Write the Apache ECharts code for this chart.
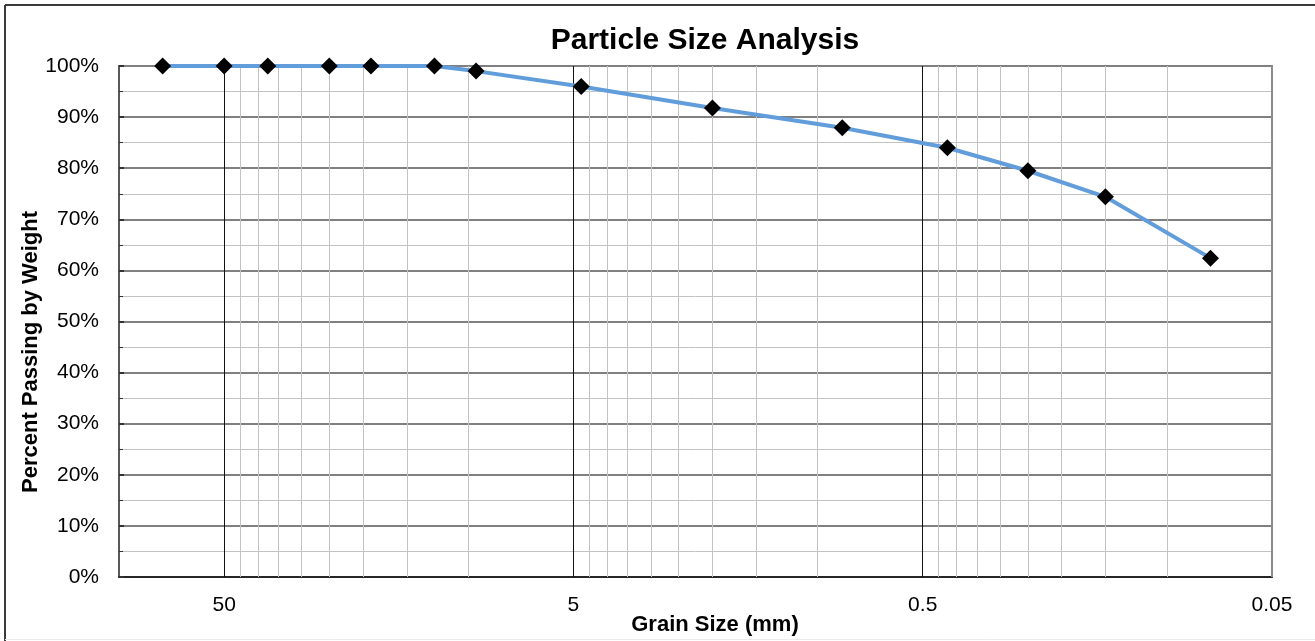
<!DOCTYPE html>
<html>
<head>
<meta charset="utf-8">
<script src="https://cdn.jsdelivr.net/npm/echarts@6/dist/echarts.min.js"></script>
<style>
  html, body { margin: 0; padding: 0; background: #ffffff; }
  #chart { width: 1315px; height: 641px; }
</style>
</head>
<body>
<div id="chart"></div>
<script>
// Sieve openings (mm) and cumulative percent passing
const grainSize = [75, 50, 37.5, 25, 19, 12.5, 9.5, 4.75, 2.0, 0.85, 0.425, 0.25, 0.15, 0.075];
const percentPassing = [100, 100, 100, 100, 100, 100, 99, 96, 91.8, 87.9, 84.0, 79.5, 74.4, 62.4];

// Labelled decades on the grain-size axis
const majorSizes = [50, 5, 0.5, 0.05];
// Minor log grid lines inside each decade
const minorSizes = [45, 40, 35, 30, 25, 20, 15, 10,
                    4.5, 4, 3.5, 3, 2.5, 2, 1.5, 1,
                    0.45, 0.4, 0.35, 0.3, 0.25, 0.2, 0.15, 0.1];

const FONT = '"Liberation Sans", Arial, sans-serif';

const gridLines = [];
minorSizes.forEach(function (v) {
  gridLines.push({ xAxis: v, lineStyle: { color: '#c3c3c3', width: 1, type: 'solid' }, label: { show: false } });
});
majorSizes.forEach(function (v, i) {
  const isEdge = i === majorSizes.length - 1;
  gridLines.push({
    xAxis: v,
    lineStyle: isEdge ? { color: '#8c8c8c', width: 2, type: 'solid' } : { color: '#111111', width: 1, type: 'solid' },
    label: {
      show: true, position: 'start', distance: 18,
      formatter: String(v), color: '#000', fontSize: 21, fontFamily: FONT
    }
  });
});

const chart = echarts.init(document.getElementById('chart'), null, { renderer: 'canvas' });

chart.setOption({
  animation: false,
  backgroundColor: '#ffffff',
  grid: {
    left: 119, right: 43, top: 66, bottom: 64,
    show: true, borderColor: '#8c8c8c', borderWidth: 2, backgroundColor: 'transparent'
  },
  xAxis: {
    type: 'log', logBase: 10, min: 0.05, max: 100, inverse: true,
    axisLine: { show: true, onZero: false, lineStyle: { color: '#262626', width: 2 } },
    axisTick: { show: false },
    axisLabel: { show: false },
    splitLine: { show: false },
    minorTick: { show: false },
    minorSplitLine: { show: false }
  },
  yAxis: {
    type: 'value', min: 0, max: 100, interval: 10,
    axisLine: { show: true, onZero: false, lineStyle: { color: '#595959', width: 2 } },
    axisTick: { show: true, inside: true, length: 5, lineStyle: { color: '#333333', width: 2 } },
    minorTick: { show: true, splitNumber: 2, length: 4, lineStyle: { color: '#333333', width: 1 } },
    axisLabel: { formatter: '{value}%', fontSize: 21, color: '#000', fontFamily: FONT, margin: 20, padding: [4, 0, 0, 0] },
    splitLine: { show: true, lineStyle: { color: '#808080', width: 2 } },
    minorSplitLine: { show: true, lineStyle: { color: '#c3c3c3', width: 1 } }
  },
  series: [{
    type: 'line',
    z: 3,
    data: grainSize.map(function (g, i) { return [g, percentPassing[i]]; }),
    symbol: 'diamond',
    symbolSize: 17,
    showAllSymbol: true,
    lineStyle: { color: '#629ddb', width: 4 },
    itemStyle: { color: '#000000' },
    markLine: {
      silent: true,
      z: 1,
      animation: false,
      symbol: ['none', 'none'],
      data: gridLines
    }
  }],
  graphic: [
    { type: 'line', silent: true, shape: { x1: 5, y1: 5, x2: 1315, y2: 5 }, style: { stroke: '#3a3a3a', lineWidth: 2 } },
    { type: 'line', silent: true, shape: { x1: 5, y1: 5, x2: 5, y2: 641 }, style: { stroke: '#3a3a3a', lineWidth: 2 } },
    { type: 'line', silent: true, shape: { x1: 5, y1: 639.5, x2: 1315, y2: 639.5 }, style: { stroke: '#ececec', lineWidth: 1 } },
    {
      type: 'text', silent: true, x: 705, y: 41,
      style: { text: 'Particle Size Analysis', font: 'bold 30px ' + FONT, fill: '#000', align: 'center', verticalAlign: 'middle' }
    },
    {
      type: 'text', silent: true, x: 31, y: 352, rotation: Math.PI / 2,
      style: { text: 'Percent Passing by Weight', font: 'bold 22px ' + FONT, fill: '#000', align: 'center', verticalAlign: 'middle' }
    },
    {
      type: 'text', silent: true, x: 715, y: 625,
      style: { text: 'Grain Size (mm)', font: 'bold 22px ' + FONT, fill: '#000', align: 'center', verticalAlign: 'middle' }
    }
  ]
});
</script>
</body>
</html>
